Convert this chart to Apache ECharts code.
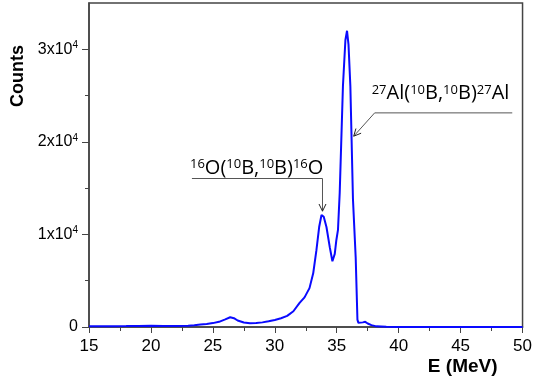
<!DOCTYPE html>
<html>
<head>
<meta charset="utf-8">
<script src="https://cdn.jsdelivr.net/npm/echarts@6/dist/echarts.min.js"></script>
<style>
  html, body { margin: 0; padding: 0; background: #fff; }
  #chart { width: 535px; height: 385px; }
</style>
</head>
<body>
<div id="chart"></div>
<script>
// spectrum
const energy = [15, 16, 17, 18, 19, 20, 21, 22, 23, 23.5, 24, 24.5, 25, 25.5, 26, 26.4, 26.7, 27, 27.5, 28,
  28.5, 29, 29.5, 30, 30.5, 31, 31.5, 32, 32.4, 32.8, 33.1, 33.36, 33.58, 33.77, 33.95, 34.17, 34.44, 34.65,
  34.84, 34.97, 35.1, 35.24, 35.5, 35.7, 35.83, 35.95, 36.1, 36.31, 36.53, 36.67, 36.75, 37.1, 37.3, 37.5,
  37.8, 38.2, 39, 40, 42, 45, 48, 50];
const counts = [80, 80, 90, 100, 120, 130, 120, 110, 130, 180, 260, 330, 420, 560, 820, 1050, 950, 700, 480, 400,
  420, 500, 620, 760, 950, 1200, 1700, 2600, 3200, 4200, 5800, 8300, 10800, 12100, 11900, 10800, 8600, 7100,
  7900, 9400, 10500, 14500, 26000, 31000, 32000, 30500, 26000, 13800, 7500, 800, 450, 500, 560, 380,
  200, 70, 20, 10, 10, 10, 10, 10];

const xTicks = [15, 20, 25, 30, 35, 40, 45, 50];
const yMajorTicks = [0, 10000, 20000, 30000];
const yMinorTicks = [5000, 15000, 25000];

// annotations, in data coordinates
const notes = [
  { label: '{s|16}{n|O(}{s|10}{n|B,}{s|10}{n|B)}{s|16}{n|O}', at: [23.15, 16610],
    line: [[23.31, 16040], [33.85, 16040], [33.85, 12510]] },
  { label: '{s|27}{n|Al(}{s|10}{n|B,}{s|10}{n|B)}{s|27}{n|Al}', at: [37.82, 24690],
    line: [[49.17, 23130], [38.06, 23130], [36.37, 20610]] }
];

const chart = echarts.init(document.getElementById('chart'));

const supFmt = (v) => v === 0 ? '{a|0}' : '{a|' + (v / 10000) + 'x10}{b|4}';

chart.setOption({
  animation: false,
  grid: { left: 89, right: 12, top: 3, bottom: 58, show: true, borderColor: '#444', borderWidth: 1.5 },
  xAxis: {
    type: 'value', min: 15, max: 50, interval: 5,
    axisLine: { lineStyle: { color: '#444', width: 1.5 } },
    axisTick: { length: 6, lineStyle: { color: '#444' } },
    minorTick: { show: true, splitNumber: 2, length: 4, lineStyle: { color: '#444' } },
    splitLine: { show: false },
    axisLabel: { margin: 11, color: '#000', fontSize: 17, fontFamily: 'Liberation Sans, Arial' },
    name: 'E (MeV)', nameLocation: 'end', nameGap: 0,
    nameTextStyle: { fontSize: 19, fontWeight: 'bold', color: '#000', fontFamily: 'Liberation Sans, Arial',
      align: 'right', verticalAlign: 'top', padding: [30, 25, 0, 0] }
  },
  yAxis: [{
    type: 'value', min: 0, max: 35000, interval: 10000,
    axisLine: { lineStyle: { color: '#444', width: 1.5 } },
    axisTick: { length: 7, customValues: yMajorTicks, lineStyle: { color: '#444' } },
    splitLine: { show: false },
    axisLabel: {
      margin: 11, customValues: yMajorTicks, formatter: supFmt,
      rich: {
        a: { fontSize: 16, color: '#000', fontFamily: 'Liberation Sans, Arial' },
        b: { fontSize: 10, color: '#000', fontFamily: 'Liberation Sans, Arial', verticalAlign: 'top', padding: [0, 0, 8, 0] }
      }
    }
  }, {
    type: 'value', min: 0, max: 35000, position: 'left',
    axisLine: { show: false },
    axisTick: { show: true, length: 4, customValues: yMinorTicks, lineStyle: { color: '#444' } },
    axisLabel: { show: false },
    splitLine: { show: false }
  }],
  series: [{
    type: 'line',
    data: energy.map((e, i) => [e, counts[i]]),
    showSymbol: false,
    lineStyle: { color: '#0a0aff', width: 2 },
    z: 3
  }]
});

// annotation graphics, positioned through the chart's own scales
const px = (p) => chart.convertToPixel({ gridIndex: 0 }, p);
const graphics = [{
  type: 'text', rotation: Math.PI / 2,
  style: { text: 'Counts', fontSize: 18, fontWeight: 'bold', fill: '#000', fontFamily: 'Liberation Sans, Arial',
    align: 'center', verticalAlign: 'middle' },
  x: 18, y: 76
}];
notes.forEach((n) => {
  const pts = n.line.map(px);
  graphics.push({ type: 'polyline', shape: { points: pts }, style: { stroke: '#555', lineWidth: 1, fill: null } });
  const tip = pts[pts.length - 1], prev = pts[pts.length - 2];
  const ang = Math.atan2(tip[1] - prev[1], tip[0] - prev[0]);
  const L = 8, w = 0.45;
  graphics.push({
    type: 'polyline',
    shape: { points: [
      [tip[0] - L * Math.cos(ang - w), tip[1] - L * Math.sin(ang - w)],
      tip,
      [tip[0] - L * Math.cos(ang + w), tip[1] - L * Math.sin(ang + w)]
    ] },
    style: { stroke: '#222', lineWidth: 1, fill: null }
  });
  const t = px(n.at);
  graphics.push({
    type: 'text', x: t[0], y: t[1] + 5,
    style: {
      text: n.label, verticalAlign: 'bottom', align: 'left',
      rich: {
        n: { fontSize: 20, fill: '#000', fontFamily: 'Open Sans' },
        s: { fontSize: 13, fill: '#000', fontFamily: 'Open Sans', verticalAlign: 'top' }
      }
    }
  });
});
chart.setOption({ graphic: graphics });
</script>
</body>
</html>
